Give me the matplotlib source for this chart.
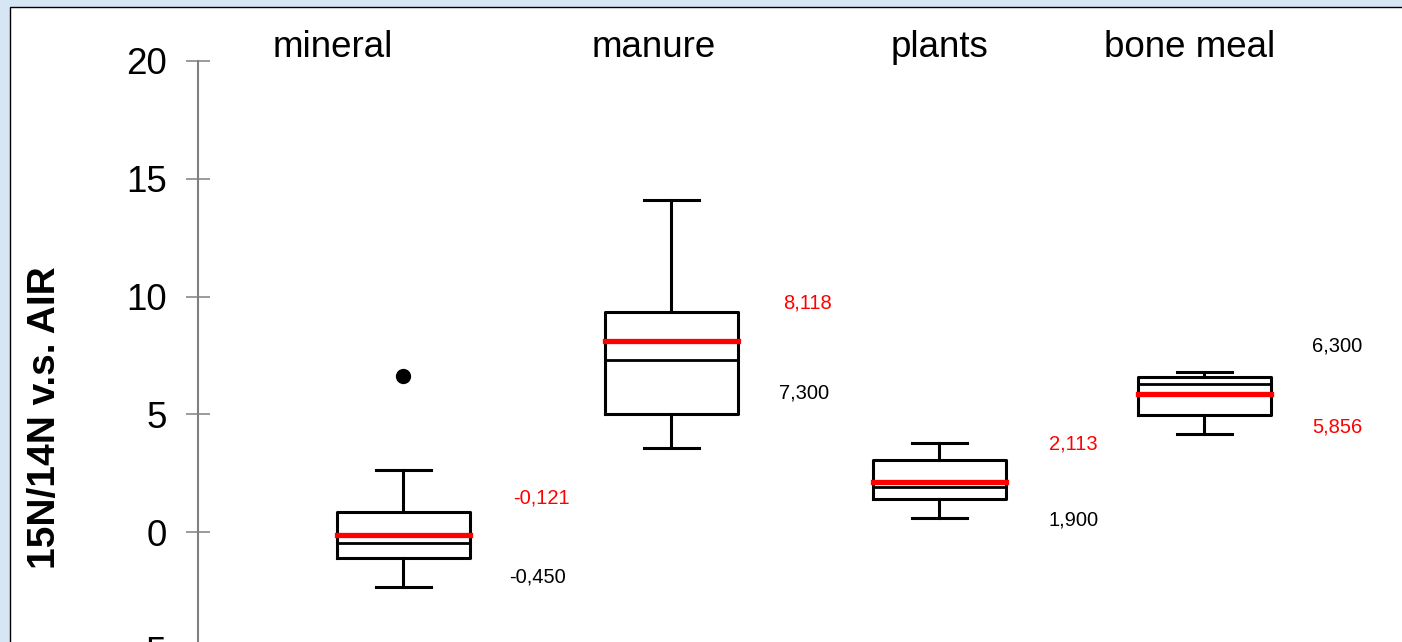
import matplotlib
matplotlib.use("Agg")
import matplotlib.pyplot as plt
from matplotlib.patches import Rectangle

# ---- data ----
categories = ["mineral", "manure", "plants", "bone meal"]
whisker_high = [2.63, 14.10, 3.76, 6.80]
q3_values = [0.84, 9.33, 3.04, 6.60]
mean_values = [-0.121, 8.118, 2.113, 5.856]
median_values = [-0.450, 7.300, 1.900, 6.300]
q1_values = [-1.12, 4.99, 1.42, 4.97]
whisker_low = [-2.32, 3.57, 0.61, 4.16]
outliers = [[6.64], [], [], []]
y_ticks = [-5, 0, 5, 10, 15, 20]
y_label = "15N/14N v.s. AIR"

# ---- layout (pixel-based) ----
W, H = 1402, 642
PX_PER_UNIT = 117.75 / 5.0
ZERO_ROW = 532.0
Y_BOTTOM = -6.0  # axes extends below the figure edge


def row_to_val(p):
    return (ZERO_ROW - p) / PX_PER_UNIT


box_x = [403, 671, 939, 1204]
cat_x = [333, 654, 940, 1190]
cat_row = 57
mean_lbl_pos = [(513, 498), (783, 303), (1049, 444), (1312, 427)]
med_lbl_pos = [(509, 577), (779, 393), (1049, 520), (1312, 346)]

plt.rcParams['font.family'] = ['Liberation Sans', 'DejaVu Sans']

fig = plt.figure(figsize=(W / 100, H / 100), dpi=100)
fig.patch.set_facecolor('#d6e6f5')
panel = Rectangle((9.5 / W, -0.1), 1.2, (H - 6.5) / H + 0.1,
                  transform=fig.transFigure, facecolor='white',
                  edgecolor='black', linewidth=1.0, zorder=-1)
fig.add_artist(panel)

bottom_row = ZERO_ROW - Y_BOTTOM * PX_PER_UNIT
ax_h = bottom_row / H
ax = fig.add_axes([0, 1 - ax_h, 1, ax_h])
ax.patch.set_visible(False)

stats = []
for i, c in enumerate(categories):
    stats.append(dict(label=c, whislo=whisker_low[i], q1=q1_values[i],
                      med=median_values[i], q3=q3_values[i],
                      whishi=whisker_high[i], mean=mean_values[i],
                      fliers=outliers[i]))

ax.bxp(stats, positions=box_x, widths=133, capwidths=55,
       showmeans=True, meanline=True, manage_ticks=False,
       boxprops=dict(color='black', linewidth=2.2),
       medianprops=dict(color='black', linewidth=2.0),
       whiskerprops=dict(color='black', linewidth=2.2),
       capprops=dict(color='black', linewidth=2.2),
       meanprops=dict(color='red', linestyle='-', linewidth=3.8,
                      solid_capstyle='projecting'),
       flierprops=dict(marker='o', markerfacecolor='black',
                       markeredgecolor='black', markersize=10))

for s in ['top', 'right', 'bottom']:
    ax.spines[s].set_visible(False)
ax.spines['left'].set_position(('data', 198))
ax.spines['left'].set_bounds(Y_BOTTOM, 20)
ax.spines['left'].set_color('#808080')
ax.spines['left'].set_linewidth(1.5)
ax.set_xticks([])
ax.set_yticks(y_ticks)
ax.set_yticklabels([str(t) for t in y_ticks])
ax.tick_params(axis='y', direction='inout', length=17.3, width=1.1,
               color='#808080', pad=14, labelsize=26.5)

# limits last, so tick setting cannot expand them
ax.set_xlim(0, W)
ax.set_ylim(Y_BOTTOM, row_to_val(0))

ax.set_ylabel(y_label, fontsize=28, fontweight='bold')
ax.yaxis.set_label_coords(63 / W, (bottom_row - 418) / bottom_row)

for i, c in enumerate(categories):
    ax.text(cat_x[i], row_to_val(cat_row), c, ha='center', va='baseline',
            fontsize=26.5)


def fmt(v):
    return f"{v:.3f}".replace('.', ',')


for i in range(len(categories)):
    x, r = mean_lbl_pos[i]
    ax.text(x, row_to_val(r), fmt(mean_values[i]), color='red',
            ha='left', va='center', fontsize=14.5)
    x, r = med_lbl_pos[i]
    ax.text(x, row_to_val(r), fmt(median_values[i]), color='black',
            ha='left', va='center', fontsize=14.5)

fig.savefig("out.png", dpi=100)
